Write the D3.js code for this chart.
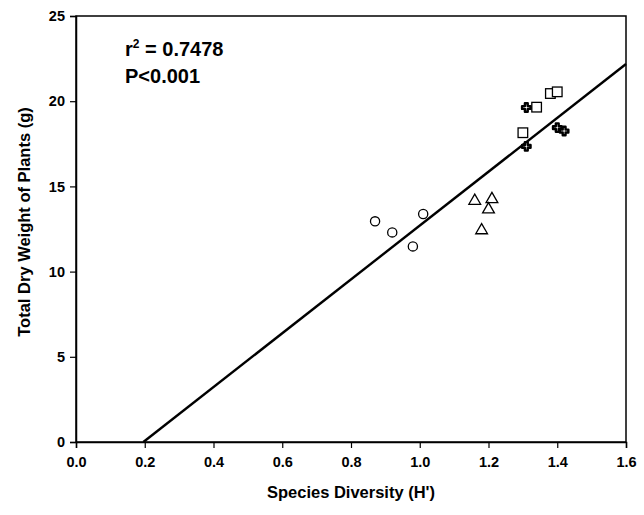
<!DOCTYPE html>
<html><head><meta charset="utf-8">
<script src="https://cdn.jsdelivr.net/npm/d3@7"></script>
<style>body{margin:0;background:#fff}svg{display:block}text{font-family:"Liberation Sans",Arial,sans-serif;font-weight:bold;fill:#000}</style>
</head><body>
<svg id="c" width="644" height="515"></svg>
<script>
const xTicks = [0.0,0.2,0.4,0.6,0.8,1.0,1.2,1.4,1.6];
const yTicks = [0,5,10,15,20,25];
const circlesX = [0.87,0.92,1.01,0.98];
const circlesY = [12.95,12.3,13.38,11.48];
const trianglesX = [1.16,1.21,1.20,1.18];
const trianglesY = [14.15,14.25,13.65,12.42];
const squaresX = [1.38,1.40,1.34,1.30];
const squaresY = [20.45,20.55,19.65,18.15];
const crossesX = [1.31,1.31,1.40,1.42];
const crossesY = [19.63,17.35,18.45,18.25];
const fitX = [0.196,1.6];
const fitY = [0,22.18];

const svg = d3.select("#c");
const L=76,T=16,R=626,B=442;
const x = d3.scaleLinear().domain([0,1.6]).range([L,R]);
const y = d3.scaleLinear().domain([0,25]).range([B,T]);

svg.append("rect").attr("x",L).attr("y",T).attr("width",R-L).attr("height",B-T)
  .attr("fill","none").attr("stroke","#000").attr("stroke-width",1.5);

const gx = svg.append("g").attr("transform",`translate(0,${B})`)
  .call(d3.axisBottom(x).tickValues(xTicks).tickFormat(d3.format(".1f")).tickSize(6).tickPadding(9));
const gy = svg.append("g").attr("transform",`translate(${L},0)`)
  .call(d3.axisLeft(y).tickValues(yTicks).tickFormat(d3.format("d")).tickSize(6).tickPadding(5));
[gx,gy].forEach(g=>{
  g.select(".domain").attr("stroke","#000").attr("stroke-width",1.5);
  g.selectAll(".tick line").attr("stroke","#000").attr("stroke-width",1.2);
  g.selectAll(".tick text").style("font-family",'"Liberation Sans",Arial,sans-serif').style("font-weight","bold").style("font-size","14.5px").attr("fill","#000");
});

svg.append("line").attr("x1",x(fitX[0])).attr("y1",y(fitY[0])).attr("x2",x(fitX[1])).attr("y2",y(fitY[1]))
  .attr("stroke","#000").attr("stroke-width",2.4);

const mk = (xs,ys)=>xs.map((v,i)=>({x:v,y:ys[i]}));
const sw=1.3;
svg.append("g").selectAll("circle").data(mk(circlesX,circlesY)).join("circle")
  .attr("cx",d=>x(d.x)).attr("cy",d=>y(d.y)).attr("r",4.6)
  .attr("fill","#fff").attr("stroke","#000").attr("stroke-width",sw);
svg.append("g").selectAll("path").data(mk(trianglesX,trianglesY)).join("path")
  .attr("transform",d=>`translate(${x(d.x)},${y(d.y)})`)
  .attr("d",d3.symbol(d3.symbolTriangle,60)())
  .attr("fill","#fff").attr("stroke","#000").attr("stroke-width",sw);
svg.append("g").selectAll("rect").data(mk(squaresX,squaresY)).join("rect")
  .attr("x",d=>x(d.x)-4.8).attr("y",d=>y(d.y)-4.8).attr("width",9.6).attr("height",9.6)
  .attr("fill","#fff").attr("stroke","#000").attr("stroke-width",sw);
svg.append("g").selectAll("path").data(mk(crossesX,crossesY)).join("path")
  .attr("transform",d=>`translate(${x(d.x)},${y(d.y)})`)
  .attr("d",d3.symbol(d3.symbolCross,40)())
  .attr("fill","#fff").attr("stroke","#000").attr("stroke-width",2.4).attr("stroke-linejoin","round");

const a = svg.append("text").attr("x",125).attr("y",56).style("font-size","20px");
a.append("tspan").text("r");
a.append("tspan").attr("dy",-8).style("font-size","12px").text("2");
a.append("tspan").attr("dy",8).text(" = 0.7478");
svg.append("text").attr("x",125).attr("y",83).style("font-size","20px").text("P<0.001");

svg.append("text").attr("x",351).attr("y",498).attr("text-anchor","middle").style("font-size","16.5px").text("Species Diversity (H')");
svg.append("text").attr("transform","translate(30,222) rotate(-90)").attr("text-anchor","middle").style("font-size","16.5px").text("Total Dry Weight of Plants (g)");
</script>
</body></html>
